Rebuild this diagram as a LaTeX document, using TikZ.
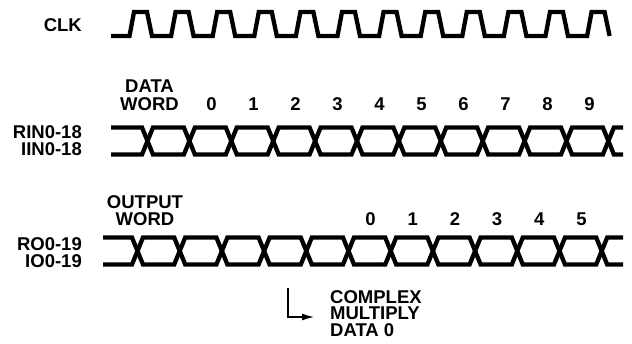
\documentclass[tikz,border=0pt]{standalone}
\usepackage{fontspec}
\setmainfont{Liberation Sans}
\usepackage{tikz}
\usetikzlibrary{arrows.meta}

\begin{document}
\begin{tikzpicture}[x=1pt,y=1pt]
\tikzstyle{every node}+=[inner sep=0pt]
\tikzstyle{sig}=[black,line width=4.3pt,line join=miter]
\tikzstyle{lbl}=[font=\fontsize{18.5}{17.5}\selectfont\bfseries]
\useasboundingbox (0,0) rectangle (632,-343);
% clock
\node [lbl, anchor=base east] (clk) at (82,-31.5) {CLK};
\draw [sig] (111,-36) -- (129.5,-36) -- (134,-12) -- (147,-12) -- (152,-36)
 -- (171.1,-36) -- (175.6,-12) -- (188.6,-12) -- (193.6,-36)
 -- (212.7,-36) -- (217.2,-12) -- (230.2,-12) -- (235.2,-36)
 -- (254.3,-36) -- (258.8,-12) -- (271.8,-12) -- (276.8,-36)
 -- (295.9,-36) -- (300.4,-12) -- (313.4,-12) -- (318.4,-36)
 -- (337.5,-36) -- (342,-12) -- (355,-12) -- (360,-36)
 -- (379.1,-36) -- (383.6,-12) -- (396.6,-12) -- (401.6,-36)
 -- (420.7,-36) -- (425.2,-12) -- (438.2,-12) -- (443.2,-36)
 -- (462.3,-36) -- (466.8,-12) -- (479.8,-12) -- (484.8,-36)
 -- (503.9,-36) -- (508.4,-12) -- (521.4,-12) -- (526.4,-36)
 -- (545.5,-36) -- (550,-12) -- (563,-12) -- (568,-36)
 -- (587.1,-36) -- (591.6,-12) -- (604.6,-12) -- (609.6,-36);
% input bus
\node [lbl, anchor=north, align=center] (dataword) at (149.5,-80) {DATA\\WORD};
\node [lbl, anchor=base] (d0) at (211.5,-110) {0};
\node [lbl, anchor=base] (d1) at (253.5,-110) {1};
\node [lbl, anchor=base] (d2) at (295.5,-110) {2};
\node [lbl, anchor=base] (d3) at (337.5,-110) {3};
\node [lbl, anchor=base] (d4) at (379.5,-110) {4};
\node [lbl, anchor=base] (d5) at (421.5,-110) {5};
\node [lbl, anchor=base] (d6) at (463.5,-110) {6};
\node [lbl, anchor=base] (d7) at (505.5,-110) {7};
\node [lbl, anchor=base] (d8) at (547.5,-110) {8};
\node [lbl, anchor=base] (d9) at (589.5,-110) {9};
\node [lbl, anchor=north east, align=right] (rin) at (82,-125) {RIN0-18\\IIN0-18};
\draw [sig] (111,-127.5) -- (142,-127.5) -- (153,-154.5) -- (183.9,-154.5) -- (194.9,-127.5)
 -- (225.8,-127.5) -- (236.8,-154.5) -- (267.7,-154.5) -- (278.7,-127.5)
 -- (309.6,-127.5) -- (320.6,-154.5) -- (351.5,-154.5) -- (362.5,-127.5)
 -- (393.4,-127.5) -- (404.4,-154.5) -- (435.3,-154.5) -- (446.3,-127.5)
 -- (477.2,-127.5) -- (488.2,-154.5) -- (519.1,-154.5) -- (530.1,-127.5)
 -- (561,-127.5) -- (572,-154.5) -- (602.9,-154.5) -- (613.9,-127.5) -- (623,-127.5);
\draw [sig] (111,-154.5) -- (142,-154.5) -- (153,-127.5) -- (183.9,-127.5) -- (194.9,-154.5)
 -- (225.8,-154.5) -- (236.8,-127.5) -- (267.7,-127.5) -- (278.7,-154.5)
 -- (309.6,-154.5) -- (320.6,-127.5) -- (351.5,-127.5) -- (362.5,-154.5)
 -- (393.4,-154.5) -- (404.4,-127.5) -- (435.3,-127.5) -- (446.3,-154.5)
 -- (477.2,-154.5) -- (488.2,-127.5) -- (519.1,-127.5) -- (530.1,-154.5)
 -- (561,-154.5) -- (572,-127.5) -- (602.9,-127.5) -- (613.9,-154.5) -- (623,-154.5);
% output bus
\node [lbl, anchor=north, align=center] (outword) at (145,-195) {OUTPUT\\WORD};
\node [lbl, anchor=base] (o0) at (370.5,-225.5) {0};
\node [lbl, anchor=base] (o1) at (412.7,-225.5) {1};
\node [lbl, anchor=base] (o2) at (454.9,-225.5) {2};
\node [lbl, anchor=base] (o3) at (497.1,-225.5) {3};
\node [lbl, anchor=base] (o4) at (539.3,-225.5) {4};
\node [lbl, anchor=base] (o5) at (581.5,-225.5) {5};
\node [lbl, anchor=north east, align=right] (ro) at (82,-237) {RO0-19\\IO0-19};
\draw [sig] (103,-237.5) -- (132,-237.5) -- (143,-264.5) -- (174.2,-264.5) -- (185.2,-237.5)
 -- (216.4,-237.5) -- (227.4,-264.5) -- (258.6,-264.5) -- (269.6,-237.5)
 -- (300.8,-237.5) -- (311.8,-264.5) -- (343,-264.5) -- (354,-237.5)
 -- (385.2,-237.5) -- (396.2,-264.5) -- (427.4,-264.5) -- (438.4,-237.5)
 -- (469.6,-237.5) -- (480.6,-264.5) -- (511.8,-264.5) -- (522.8,-237.5)
 -- (554,-237.5) -- (565,-264.5) -- (596.2,-264.5) -- (607.2,-237.5) -- (623,-237.5);
\draw [sig] (103,-264.5) -- (132,-264.5) -- (143,-237.5) -- (174.2,-237.5) -- (185.2,-264.5)
 -- (216.4,-264.5) -- (227.4,-237.5) -- (258.6,-237.5) -- (269.6,-264.5)
 -- (300.8,-264.5) -- (311.8,-237.5) -- (343,-237.5) -- (354,-264.5)
 -- (385.2,-264.5) -- (396.2,-237.5) -- (427.4,-237.5) -- (438.4,-264.5)
 -- (469.6,-264.5) -- (480.6,-237.5) -- (511.8,-237.5) -- (522.8,-264.5)
 -- (554,-264.5) -- (565,-237.5) -- (596.2,-237.5) -- (607.2,-264.5) -- (623,-264.5);
% note
\node [lbl, anchor=north west, align=left, font=\fontsize{18.5}{16.5}\selectfont\bfseries] (cmnote) at (330,-290) {COMPLEX\\MULTIPLY\\DATA 0};
\coordinate (cmtop) at (288,-288);
\coordinate (cmtip) at (315,-317);
\draw [black, line width=2pt, -{Latex[length=13pt,width=7pt]}] (cmtop) |- (cmtip);
\end{tikzpicture}
\end{document}
